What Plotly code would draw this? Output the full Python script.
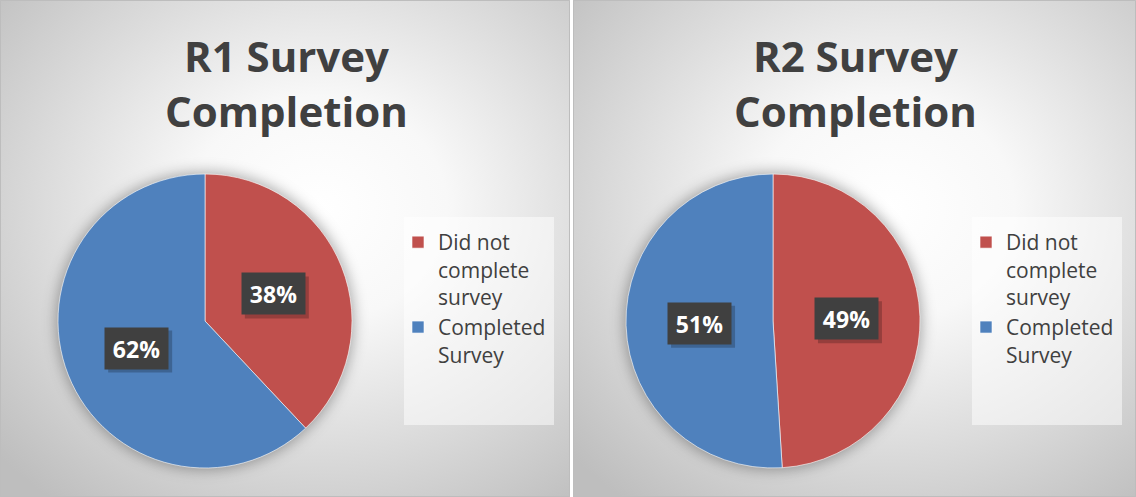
import base64
import math
import plotly.graph_objects as go

# ---------------- data ----------------
titles = ["R1 Survey<br>Completion", "R2 Survey<br>Completion"]
categories = ["Did not<br>complete<br>survey", "Completed<br>Survey"]
r1_values = [38, 62]
r2_values = [49, 51]
series = [r1_values, r2_values]

# ---------------- style / layout constants ----------------
W, H = 1136, 497
RED, BLUE = "#C0504D", "#4F81BD"
TEXT = "#404040"
FONT = "Open Sans"
panels = [(0, 570), (573, 1136)]
pie_centers = [(205, 321), (773, 321)]
R = 147
legend_boxes = [(404, 217, 554, 425), (972, 217, 1122, 425)]
BOX_W, BOX_H = 63, 41


def px_x(x):
    return x / W


def px_y(y):
    return 1 - y / H


# ---------------- background (gradient panels + pie shadows) ----------------
defs = ['<filter id="blur" x="-30%" y="-30%" width="160%" height="160%">'
        '<feGaussianBlur stdDeviation="7"/></filter>']
body = []
for i, (x0, x1) in enumerate(panels):
    defs.append(
        f'<radialGradient id="g{i}" cx="0.56" cy="0.42" r="0.75">'
        '<stop offset="0" stop-color="#FFFFFF"/>'
        '<stop offset="0.3" stop-color="#F8F8F8"/>'
        '<stop offset="1" stop-color="#BEBEBE"/></radialGradient>')
    body.append(f'<rect x="{x0}" y="0" width="{x1 - x0}" height="{H}" fill="url(#g{i})"/>')
for cx, cy in pie_centers:
    body.append(f'<circle cx="{cx}" cy="{cy}" r="{R + 2}" fill="#000" fill-opacity="0.32" filter="url(#blur)"/>')
svg = (f'<svg xmlns="http://www.w3.org/2000/svg" width="{W}" height="{H}" viewBox="0 0 {W} {H}" '
       f'preserveAspectRatio="none"><defs>{"".join(defs)}</defs>'
       f'<rect width="{W}" height="{H}" fill="#FFFFFF"/>{"".join(body)}</svg>')
bg_src = "data:image/svg+xml;base64," + base64.b64encode(svg.encode()).decode()

fig = go.Figure()

for i, (vals, (cx, cy)) in enumerate(zip(series, pie_centers)):
    # pies sharing identical labels would share legend entries; a zero-width
    # space keeps the second chart's legend entries separate (same visible text)
    labels = [c + "\u200b" * i for c in categories]
    fig.add_trace(go.Pie(
        labels=labels,
        values=vals,
        sort=False,
        direction="clockwise",
        rotation=0,
        marker=dict(colors=[RED, BLUE], line=dict(color="rgba(255,255,255,0.6)", width=1)),
        textinfo="none",
        hoverinfo="label+percent",
        domain=dict(x=[px_x(cx - R), px_x(cx + R)], y=[px_y(cy + R), px_y(cy - R)]),
        legend="legend" if i == 0 else "legend2",
        showlegend=True,
    ))

annotations = []
shapes = []
# titles
for (x0, x1), t in zip(panels, titles):
    annotations.append(dict(
        x=px_x((x0 + x1) / 2 + 1), y=px_y(83), xref="paper", yref="paper",
        text=t, showarrow=False, xanchor="center", yanchor="middle",
        font=dict(family=FONT, size=42, color=TEXT, weight=700),
    ))

# data labels (positioned from the data: mid-angle of each slice at half radius)
for vals, (cx, cy) in zip(series, pie_centers):
    total = sum(vals)
    cum = 0
    for v in vals:
        mid = (cum + v / 2) / total * 2 * math.pi
        cum += v
        lx = cx + 0.5 * R * math.sin(mid)
        ly = cy - 0.5 * R * math.cos(mid)
        txt = f"{round(v / total * 100)}%"
        # soft drop shadow under the label box
        shapes.append(dict(type="rect", xref="paper", yref="paper",
                           x0=px_x(lx - BOX_W / 2 + 3), x1=px_x(lx + BOX_W / 2 + 4),
                           y0=px_y(ly + BOX_H / 2 + 4), y1=px_y(ly - BOX_H / 2 + 3),
                           fillcolor="rgba(0,0,0,0.22)", line=dict(width=0), layer="above"))
        annotations.append(dict(x=px_x(lx), y=px_y(ly), xref="paper", yref="paper", text=txt,
                                showarrow=False, xanchor="center", yanchor="middle",
                                width=BOX_W - 12, height=BOX_H - 12, borderpad=6,
                                bgcolor="#404040",
                                font=dict(family=FONT, size=23, color="#FFFFFF", weight=700)))

for (x0, y0, x1, y1) in legend_boxes:
    shapes.append(dict(type="rect", xref="paper", yref="paper",
                       x0=px_x(x0), x1=px_x(x1), y0=px_y(y1), y1=px_y(y0),
                       fillcolor="rgba(255,255,255,0.5)", line=dict(width=0), layer="below"))
for (x0, x1) in panels:
    shapes.append(dict(type="rect", xref="paper", yref="paper",
                       x0=px_x(x0 + 0.5), x1=px_x(x1 - 0.5), y0=px_y(H - 0.5), y1=px_y(0.5),
                       fillcolor="rgba(0,0,0,0)", line=dict(color="#BDBDBD", width=1), layer="above"))

legend_common = dict(bgcolor="rgba(0,0,0,0)", borderwidth=0,
                     font=dict(family=FONT, size=21, color=TEXT),
                     valign="top", xanchor="left", yanchor="top", itemclick=False)

fig.update_layout(
    width=W, height=H,
    margin=dict(l=0, r=0, t=0, b=0),
    paper_bgcolor="#FFFFFF",
    plot_bgcolor="rgba(0,0,0,0)",
    images=[dict(source=bg_src, xref="paper", yref="paper", x=0, y=1, sizex=1, sizey=1,
                 xanchor="left", yanchor="top", sizing="stretch", layer="below")],
    annotations=annotations,
    shapes=shapes,
    legend=dict(legend_common, x=px_x(398), y=px_y(222)),
    legend2=dict(legend_common, x=px_x(966), y=px_y(222)),
    font=dict(family=FONT),
)

fig.write_html("out.html")
